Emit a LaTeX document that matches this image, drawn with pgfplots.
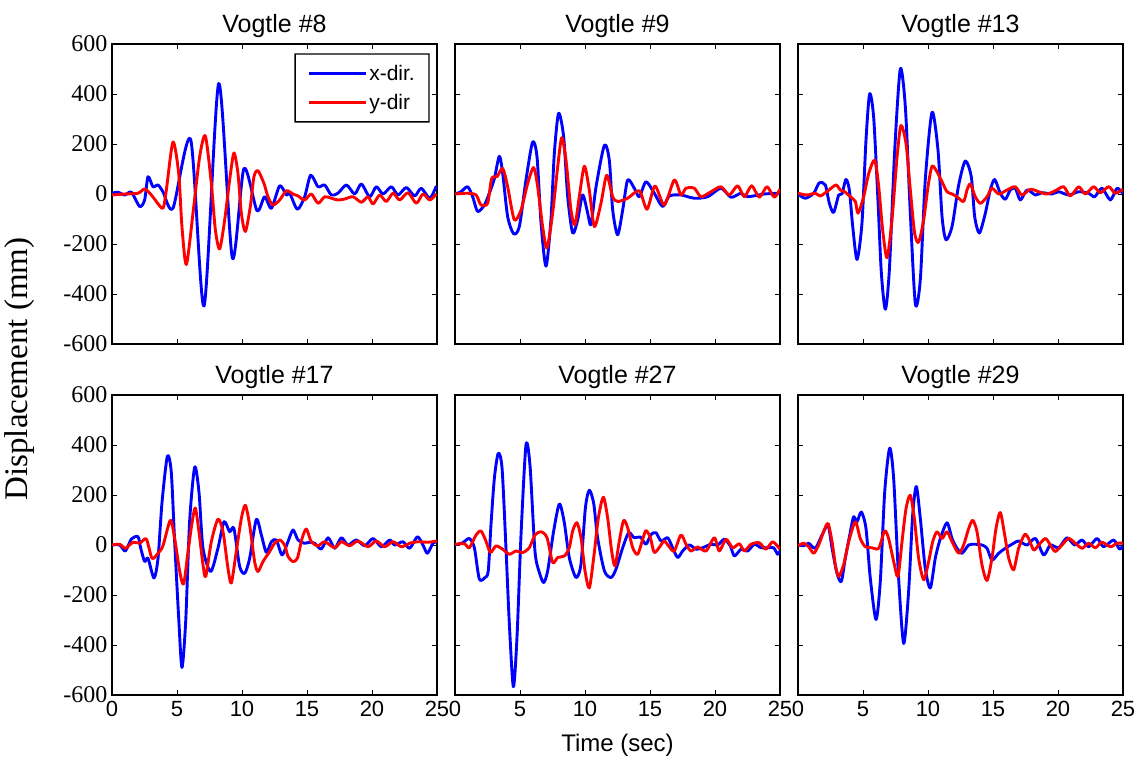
\documentclass[border=0pt]{standalone}
\usepackage{fontspec}
\setmainfont{Liberation Serif}
\newfontfamily\arial{Liberation Sans}
\usepackage{pgfplots}
\pgfplotsset{compat=1.18}
\usepgfplotslibrary{groupplots}
\begin{document}
\begin{tikzpicture}
\begin{groupplot}[
  group style={group size=3 by 2, horizontal sep=18pt, vertical sep=51pt,
    xticklabels at=edge bottom, yticklabels at=edge left},
  scale only axis, width=325pt, height=300pt,
  xmin=0, xmax=25, ymin=-600, ymax=600,
  xtick={0,5,...,25}, ytick={-600,-400,...,600},
  /pgf/number format/assume math mode=true,
  yticklabel style={font=\fontsize{24}{24}\selectfont, xshift=-1pt},
  xticklabel style={font=\arial\fontsize{22}{22}\selectfont, yshift=-3pt},
  tick align=inside, major tick length=5pt,
  tick style={line width=0.9pt, black},
  axis line style={line width=1.3pt},
  title style={font=\arial\fontsize{25}{25}\selectfont, yshift=-3pt},
  curve/.style={line width=2.9pt, smooth, tension=0.45, line join=round},
  legend style={font=\arial\fontsize{21}{21}\selectfont, at={(1,1)}, anchor=north east,
    xshift=-8pt, yshift=-10pt, draw=none, fill=white, inner xsep=12pt, inner ysep=9pt, row sep=8pt, cells={anchor=west}, name=leg},
  legend image code/.code={\draw[#1, line width=2.9pt] (0pt,0pt) -- (57pt,0pt);},
]
% ---------------- Vogtle #8
\nextgroupplot[title={Vogtle \#8}]
\addplot[blue, curve] coordinates {(0,3) (0.46,7) (0.97,-4) (1.49,7) (2.13,-50) (2.51,-24) (2.77,69) (3.15,29) (3.54,36) (3.92,9) (4.69,-57) (6.05,218) (7.08,-448) (8.21,442) (9.26,-256) (10.15,102) (11.15,-66) (11.74,-11) (12.26,-57) (12.9,33) (13.41,-4) (13.67,3) (14.26,-61) (14.82,-11) (15.28,75) (15.85,29) (16.36,36) (16.87,-4) (17.38,3) (18.03,36) (18.67,0) (19.18,40) (19.82,-11) (20.33,29) (20.85,0) (21.49,29) (22.0,-4) (22.64,26) (23.28,-8) (23.79,23) (24.44,-17) (24.95,32)};
\addlegendentry{x-dir.}
\addplot[red, curve] coordinates {(0,-4) (0.97,0) (2.0,3) (2.51,20) (3.03,-4) (3.41,-30) (3.92,-57) (4.18,16) (4.69,208) (5.13,82) (5.38,-130) (5.72,-282) (6.23,-77) (6.74,148) (7.18,232) (7.64,42) (7.95,-143) (8.28,-220) (8.67,-103) (9.05,56) (9.38,164) (9.69,82) (9.95,-77) (10.26,-150) (10.64,-50) (10.92,69) (11.23,93) (11.69,42) (12.0,-11) (12.38,-44) (12.9,-24) (13.41,13) (13.92,0) (14.31,-8) (14.82,-24) (15.33,0) (15.85,-37) (16.36,-11) (16.87,-17) (17.38,-24) (17.9,-20) (18.54,-11) (19.18,-33) (19.69,-11) (20.08,-40) (20.59,-4) (21.1,-30) (21.62,3) (22.13,-24) (22.77,5) (23.41,-37) (23.92,0) (24.44,-24) (24.95,0)};
\addlegendentry{y-dir}
% ---------------- Vogtle #9
\nextgroupplot[title={Vogtle \#9}]
\addplot[blue, curve] coordinates {(0,0) (0.46,9) (0.97,29) (1.36,-11) (1.74,-70) (2.26,-44) (2.64,3) (3.03,62) (3.41,151) (3.67,82) (4.05,-90) (4.51,-159) (4.95,-130) (5.46,56) (5.97,208) (6.31,148) (6.62,-117) (7.0,-289) (7.38,-103) (7.64,162) (7.97,323) (8.36,228) (8.67,-11) (9.05,-156) (9.44,-103) (9.82,-4) (10.21,-77) (10.46,-123) (10.85,29) (11.49,195) (11.87,135) (12.13,-64) (12.51,-163) (12.9,-64) (13.28,56) (13.79,23) (14.18,-11) (14.69,49) (15.33,3) (15.97,-50) (16.49,-8) (17.38,-4) (18.41,-17) (19.44,-11) (20.46,23) (21.23,-13) (22.0,3) (22.51,-11) (23.79,0) (25,3)};
\addplot[red, curve] coordinates {(0,0) (0.97,3) (1.62,-4) (2.0,-44) (2.51,-37) (2.82,62) (3.23,69) (3.67,102) (4.05,29) (4.56,-103) (5.08,-64) (5.59,42) (6.05,106) (6.36,29) (6.74,-130) (7.08,-216) (7.51,-77) (7.9,109) (8.21,225) (8.54,135) (8.92,-64) (9.23,-123) (9.56,-11) (9.95,111) (10.33,16) (10.72,-130) (11.23,-37) (11.67,75) (12.13,-11) (12.51,-30) (13.28,-17) (14.18,13) (14.77,-61) (15.38,32) (16.1,-44) (16.87,56) (17.38,-4) (17.77,23) (18.41,23) (18.92,-11) (19.69,9) (20.46,29) (21.1,-4) (21.74,33) (22.26,-11) (22.82,33) (23.41,-13) (24.0,29) (24.56,-13) (25,20)};
% ---------------- Vogtle #13
\nextgroupplot[title={Vogtle \#13}]
\addplot[blue, curve] coordinates {(0,0) (0.56,-17) (1.21,3) (1.64,45) (2.1,36) (2.41,-37) (2.74,-74) (3.13,-4) (3.38,0) (3.69,58) (3.95,16) (4.21,-130) (4.54,-262) (4.92,-117) (5.23,215) (5.51,400) (5.82,307) (6.15,-24) (6.41,-315) (6.72,-461) (7.03,-302) (7.44,175) (7.87,500) (8.26,347) (8.64,-77) (9.03,-441) (9.41,-342) (9.79,56) (10.31,327) (10.77,175) (11.08,-90) (11.38,-183) (11.85,-130) (12.36,36) (12.87,132) (13.33,69) (13.59,-90) (13.95,-156) (14.41,-77) (14.79,16) (15.13,58) (15.56,3) (15.95,-21) (16.33,16) (16.72,23) (17.1,-24) (17.62,16) (18.26,-4) (18.77,5) (19.54,0) (20.05,9) (20.82,-4) (21.59,9) (22.36,3) (22.82,-11) (23.38,23) (24.03,-24) (24.54,23) (25,0)};
\addplot[red, curve] coordinates {(0,3) (0.69,-4) (1.33,3) (1.72,-8) (2.31,13) (2.92,36) (3.26,16) (3.59,9) (4.03,-11) (4.41,-30) (4.62,-77) (5.05,-11) (5.44,82) (5.9,135) (6.21,29) (6.51,-143) (6.85,-255) (7.23,-103) (7.62,148) (7.92,274) (8.31,201) (8.64,16) (8.97,-156) (9.28,-193) (9.67,-103) (10.0,29) (10.31,111) (10.69,89) (11.08,49) (11.46,9) (11.85,0) (12.23,-11) (12.74,-30) (13.0,16) (13.26,40) (13.64,-11) (14.03,-37) (14.54,-11) (14.92,23) (15.44,0) (16.08,16) (16.72,29) (17.23,-4) (17.87,19) (18.51,9) (19.15,0) (19.79,13) (20.44,29) (20.95,-8) (21.59,29) (22.1,0) (22.74,29) (23.26,5) (23.9,29) (24.41,3) (25,19)};
% ---------------- Vogtle #17
\nextgroupplot[title={Vogtle \#17}]
\addplot[blue, curve] coordinates {(0,0) (0.59,0) (1.03,-24) (1.49,24) (2.0,33) (2.21,-13) (2.51,-66) (2.77,-53) (3.23,-132) (3.54,-53) (3.85,172) (4.26,355) (4.56,291) (4.82,13) (5.13,-291) (5.38,-490) (5.67,-305) (5.97,93) (6.36,311) (6.69,212) (7.0,-13) (7.59,-106) (8.15,-13) (8.62,93) (9.05,53) (9.38,66) (9.82,-86) (10.21,-113) (10.59,-53) (11.1,102) (11.49,40) (11.87,-29) (12.26,13) (12.64,20) (13.08,-40) (13.49,7) (13.92,60) (14.31,20) (14.82,7) (15.21,11) (15.59,7) (16.1,-16) (16.62,29) (17.13,-13) (17.64,29) (18.15,0) (18.79,20) (19.44,-3) (20.08,26) (20.72,-7) (21.36,20) (21.74,0) (22.38,13) (22.9,-13) (23.49,33) (23.92,0) (24.26,-33) (24.69,7) (25,13)};
\addplot[red, curve] coordinates {(0,0) (0.59,3) (1.03,-13) (1.62,11) (2.13,7) (2.64,24) (3.08,-53) (3.54,-33) (3.92,-3) (4.49,99) (4.82,26) (5.21,-106) (5.51,-156) (5.85,-26) (6.15,86) (6.41,148) (6.69,53) (7.0,-79) (7.21,-126) (7.64,13) (8.15,103) (8.54,53) (8.92,-93) (9.18,-152) (9.56,-26) (9.95,106) (10.26,159) (10.59,79) (10.97,-66) (11.23,-106) (11.62,-66) (12.13,-26) (12.51,7) (12.9,20) (13.28,0) (13.54,-46) (13.92,-66) (14.26,-53) (14.62,26) (14.95,64) (15.33,13) (15.85,-3) (16.36,13) (17.13,-11) (17.64,13) (18.28,-3) (18.92,16) (19.69,-7) (20.33,16) (20.97,-7) (21.62,13) (22.26,-7) (22.9,7) (23.54,13) (24.31,11) (25,16)};
% ---------------- Vogtle #27
\nextgroupplot[title={Vogtle \#27}]
\addplot[blue, curve] coordinates {(0,0) (0.59,9) (1.1,26) (1.49,-11) (1.87,-136) (2.31,-130) (2.56,-103) (2.77,82) (3.03,268) (3.33,367) (3.62,307) (3.92,-11) (4.18,-315) (4.49,-567) (4.77,-368) (5.08,42) (5.46,400) (5.77,318) (6.15,-24) (6.49,-110) (6.82,-150) (7.13,-103) (7.59,56) (8.03,164) (8.41,89) (8.79,-50) (9.31,-130) (9.69,-77) (10.03,148) (10.33,219) (10.67,166) (10.97,29) (11.49,-103) (12.0,-130) (12.38,-97) (12.9,-11) (13.36,49) (13.79,29) (14.26,32) (14.69,3) (15.08,42) (15.46,49) (15.85,16) (16.36,29) (16.74,-11) (17.13,-50) (17.51,-24) (18.03,0) (18.54,-17) (19.05,-11) (19.69,3) (20.21,0) (20.72,23) (21.18,-4) (21.49,-44) (22.0,-17) (22.51,-24) (23.03,3) (23.54,-11) (24.05,-11) (24.51,-11) (24.82,-37) (25,-24)};
\addplot[red, curve] coordinates {(0,3) (0.72,5) (1.1,-11) (1.62,40) (2.0,56) (2.38,16) (2.72,-30) (3.15,-4) (3.67,-17) (4.18,-37) (4.69,-24) (5.21,-30) (5.72,-11) (6.15,40) (6.62,53) (7.08,29) (7.51,-70) (7.9,-50) (8.41,-44) (8.79,-11) (9.05,56) (9.38,89) (9.69,29) (10.0,-103) (10.33,-172) (10.67,-50) (11.03,109) (11.41,191) (11.74,109) (12.05,-24) (12.31,-84) (12.64,16) (12.97,98) (13.28,69) (13.67,-11) (14.05,-37) (14.44,23) (14.69,58) (15.03,29) (15.33,-30) (15.79,-4) (16.1,16) (16.49,-8) (16.87,-24) (17.38,40) (17.77,3) (18.15,-24) (18.67,-8) (19.31,-24) (19.95,29) (20.33,-24) (20.85,23) (21.36,-11) (21.87,5) (22.26,-24) (22.77,3) (23.41,9) (23.92,-17) (24.44,13) (25,-17)};
% ---------------- Vogtle #29
\nextgroupplot[title={Vogtle \#29}]
\addplot[blue, curve] coordinates {(0,0) (0.44,-3) (0.82,7) (1.33,-13) (1.85,40) (2.31,79) (2.62,-13) (3.0,-113) (3.33,-146) (3.64,-53) (4.03,53) (4.28,113) (4.54,93) (4.87,132) (5.23,66) (5.56,-132) (6.0,-298) (6.33,-146) (6.67,212) (7.05,387) (7.36,265) (7.74,-132) (8.13,-394) (8.51,-185) (8.82,119) (9.1,234) (9.41,106) (9.79,-93) (10.18,-172) (10.56,-53) (10.95,26) (11.46,89) (11.85,26) (12.23,-13) (12.62,-33) (13.13,0) (13.64,3) (14.15,0) (14.54,-13) (14.92,-60) (15.44,-33) (15.95,-13) (16.59,7) (16.97,16) (17.62,0) (18.26,26) (18.9,-40) (19.41,0) (20.05,-11) (20.69,29) (21.28,0) (21.85,20) (22.36,-7) (23.0,26) (23.51,-7) (24.28,20) (24.72,-16) (25,-3)};
\addplot[red, curve] coordinates {(0,-3) (0.44,7) (0.82,-7) (1.21,-33) (1.59,0) (1.97,53) (2.31,86) (2.62,13) (2.87,-79) (3.13,-126) (3.51,-79) (3.9,13) (4.41,93) (4.79,26) (5.18,-7) (5.69,-11) (6.21,-13) (6.67,56) (6.97,26) (7.36,-66) (7.69,-126) (8.0,13) (8.31,146) (8.64,199) (8.95,106) (9.28,-53) (9.67,-139) (10.05,-66) (10.36,13) (10.69,53) (11.08,26) (11.46,53) (11.85,13) (12.36,-33) (12.74,0) (13.13,66) (13.44,99) (13.77,53) (14.15,-79) (14.54,-142) (14.92,-53) (15.23,66) (15.56,130) (15.9,40) (16.21,-53) (16.59,-99) (16.97,-13) (17.44,42) (17.74,26) (18.13,-20) (18.51,0) (19.03,26) (19.41,0) (19.79,-26) (20.31,0) (20.82,26) (21.33,7) (21.85,-13) (22.36,7) (22.87,-11) (23.38,11) (24.03,-7) (24.54,7) (25,7)};
\end{groupplot}
\fill[black, even odd rule] ([shift={(-0.7pt,-0.7pt)}]leg.south west) rectangle ([shift={(0.7pt,0.7pt)}]leg.north east)
  ([shift={(0.7pt,0.7pt)}]leg.south west) rectangle ([shift={(-0.7pt,-0.7pt)}]leg.north east);
\node[rotate=90, font=\fontsize{33}{33}\selectfont] at ([xshift=-92pt, yshift=-25pt]group c1r1.south west) {Displacement (mm)};
\node[font=\arial\fontsize{24}{24}\selectfont] at ([yshift=-50pt]group c2r2.south) {Time (sec)};
\pgfresetboundingbox
\path[use as bounding box] ([xshift=-112pt, yshift=44pt]group c1r1.north west) rectangle ++(1143pt,-759pt);
\end{tikzpicture}
\end{document}
